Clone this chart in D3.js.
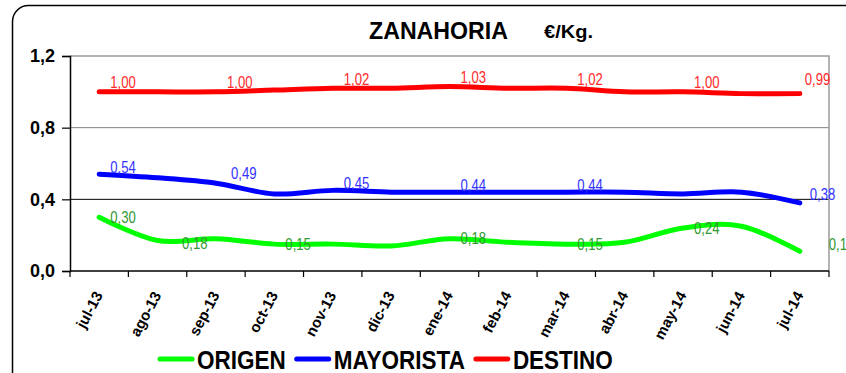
<!DOCTYPE html>
<html>
<head>
<meta charset="utf-8">
<script src="https://cdn.jsdelivr.net/npm/d3@7"></script>
<style>
  html, body { margin: 0; padding: 0; background: #fff; }
  svg { display: block; }
  text { font-family: "Liberation Sans", Arial, Helvetica, sans-serif; }
</style>
</head>
<body>
<svg id="chart" width="846" height="373"></svg>
<script>
// Monthly carrot prices (€/Kg) at each stage of the chain
const months = ['jul-13','ago-13','sep-13','oct-13','nov-13','dic-13','ene-14','feb-14','mar-14','abr-14','may-14','jun-14','jul-14'];
const origen    = [0.30, 0.17, 0.18, 0.15, 0.15, 0.14, 0.18, 0.16, 0.15, 0.16, 0.24, 0.25, 0.11];
const mayorista = [0.54, 0.52, 0.49, 0.43, 0.45, 0.44, 0.44, 0.44, 0.44, 0.44, 0.43, 0.44, 0.38];
const destino   = [1.00, 1.00, 1.00, 1.01, 1.02, 1.02, 1.03, 1.02, 1.02, 1.00, 1.00, 0.99, 0.99];
const yTicks = [0, 0.4, 0.8, 1.2];

// which points carry a value label
const labelled = {
  ORIGEN:    [0, 2, 3, 6, 8, 10, 12],
  MAYORISTA: [0, 2, 4, 6, 8, 12],
  DESTINO:   [0, 2, 4, 6, 8, 10, 12]
};

const series = [
  { name: 'ORIGEN',    values: origen,    color: '#00ff00', text: '#339933', dx: 11, dy: 0 },
  { name: 'MAYORISTA', values: mayorista, color: '#0000ff', text: '#3333ff', dx: 11, dy: -7 },
  { name: 'DESTINO',   values: destino,   color: '#ff0000', text: '#ff2a2a', dx: 11, dy: -9 }
];
// hand-placed labels that sit away from the default spot
const nudge = {
  'ORIGEN-2':  { dx: -34, dy: 5 },
  'ORIGEN-12': { dx: 29, dy: -7 },
  'MAYORISTA-2': { dx: 15, dy: -10 },
  'MAYORISTA-12': { dx: 10, dy: -9 },
  'DESTINO-12': { dx: 5, dy: -14 }
};

const NARROW = 0.82;        // horizontal squeeze for the condensed value labels
const LEGEND_NARROW = 0.9;  // and for the legend entries

const svg = d3.select('#chart');
const W = 846, H = 373;
const plot = { left: 70, right: 829, top: 56, bottom: 271 };

svg.append('rect').attr('width', W).attr('height', H).attr('fill', '#fff');

// outer rounded frame
svg.append('rect')
  .attr('x', 12.5).attr('y', 5.5)
  .attr('width', W + 20).attr('height', H + 20)
  .attr('rx', 16).attr('ry', 16)
  .attr('fill', 'none').attr('stroke', '#000').attr('stroke-width', 1.5);

const x = d3.scaleBand().domain(months).range([plot.left, plot.right]);
const y = d3.scaleLinear().domain([0, 1.2]).range([plot.bottom, plot.top]);
const cx = m => x(m) + x.bandwidth() / 2;
const fmt = v => d3.format('.2f')(v).replace('.', ',');

// gridlines and plot border
svg.append('line').attr('x1', plot.left).attr('x2', plot.right)
  .attr('y1', y(0.8)).attr('y2', y(0.8)).attr('stroke', '#808080').attr('stroke-width', 1);
svg.append('line').attr('x1', plot.left).attr('x2', plot.right)
  .attr('y1', y(0.4)).attr('y2', y(0.4)).attr('stroke', '#000').attr('stroke-width', 1);
svg.append('path')
  .attr('d', `M${plot.left},${y(1.2)}H${plot.right}V${plot.bottom}`)
  .attr('fill', 'none').attr('stroke', '#9a9a9a').attr('stroke-width', 1.5);

// y axis
const yAxis = svg.append('g')
  .attr('transform', `translate(${plot.left},0)`)
  .call(d3.axisLeft(y).tickValues(yTicks).tickSize(8).tickPadding(7)
    .tickFormat(v => d3.format('.1f')(v).replace('.', ',')));
yAxis.select('.domain').attr('stroke', '#000').attr('stroke-width', 1.5);
yAxis.selectAll('.tick line').attr('stroke', '#000').attr('stroke-width', 1.2);
yAxis.selectAll('.tick text')
  .attr('font-size', 18).attr('font-weight', 'bold').attr('fill', '#000')
  .attr('font-family', '"Liberation Sans", Arial, sans-serif');

// x axis: ticks between categories, rotated labels
const xAxisG = svg.append('g');
xAxisG.append('line')
  .attr('x1', plot.left).attr('x2', plot.right)
  .attr('y1', plot.bottom).attr('y2', plot.bottom)
  .attr('stroke', '#000').attr('stroke-width', 1.5);
const bounds = months.map(m => x(m)).concat([plot.right]);
xAxisG.selectAll('line.tk').data(bounds).join('line').attr('class', 'tk')
  .attr('x1', d => d).attr('x2', d => d)
  .attr('y1', plot.bottom).attr('y2', plot.bottom + 6)
  .attr('stroke', '#000').attr('stroke-width', 1.2);
xAxisG.selectAll('text').data(months).join('text')
  .attr('transform', m => `translate(${cx(m) + 4},${plot.bottom + 24}) rotate(-62)`)
  .attr('text-anchor', 'end')
  .attr('font-size', 15).attr('font-weight', 'bold').attr('fill', '#000')
  .text(m => m);

// smoothed series lines
const line = d3.line()
  .x((v, i) => cx(months[i]))
  .y(v => y(v))
  .curve(d3.curveCardinal.tension(0));

svg.append('g').selectAll('path').data(series).join('path')
  .attr('d', s => line(s.values))
  .attr('fill', 'none')
  .attr('stroke', s => s.color)
  .attr('stroke-width', 5)
  .attr('stroke-linecap', 'round')
  .attr('stroke-linejoin', 'round');

// value labels (condensed)
series.forEach(s => {
  const pts = labelled[s.name].map(i => {
    const n = nudge[s.name + '-' + i] || { dx: s.dx, dy: s.dy };
    return { i, v: s.values[i], dx: n.dx, dy: n.dy };
  });
  svg.append('g').selectAll('text').data(pts).join('text')
    .attr('transform', d => `translate(${cx(months[d.i]) + d.dx},${y(d.v) + d.dy}) scale(${NARROW},1)`)
    .attr('dy', '0.35em')
    .attr('font-size', 16)
    .attr('fill', s.text)
    .text(d => fmt(d.v));
});

// title
svg.append('text')
  .attr('x', 369).attr('y', 39)
  .attr('font-size', 23).attr('font-weight', 'bold').attr('fill', '#000')
  .attr('textLength', 139).attr('lengthAdjust', 'spacingAndGlyphs')
  .text('ZANAHORIA');
svg.append('text')
  .attr('x', 544).attr('y', 38)
  .attr('font-size', 18).attr('font-weight', 'bold').attr('fill', '#000')
  .attr('textLength', 49).attr('lengthAdjust', 'spacingAndGlyphs')
  .text('€/Kg.');

// legend (condensed bold)
const legend = svg.append('g');
let lx = 160;
series.forEach(s => {
  legend.append('line')
    .attr('x1', lx).attr('x2', lx + 32)
    .attr('y1', 359).attr('y2', 359)
    .attr('stroke', s.color).attr('stroke-width', 5).attr('stroke-linecap', 'round');
  const t = legend.append('text')
    .attr('transform', `translate(${lx + 37},369) scale(${LEGEND_NARROW},1)`)
    .attr('font-size', 25).attr('font-weight', 'bold').attr('fill', '#000')
    .text(s.name);
  lx += 37 + t.node().getComputedTextLength() * LEGEND_NARROW + 11;
});
</script>
</body>
</html>
